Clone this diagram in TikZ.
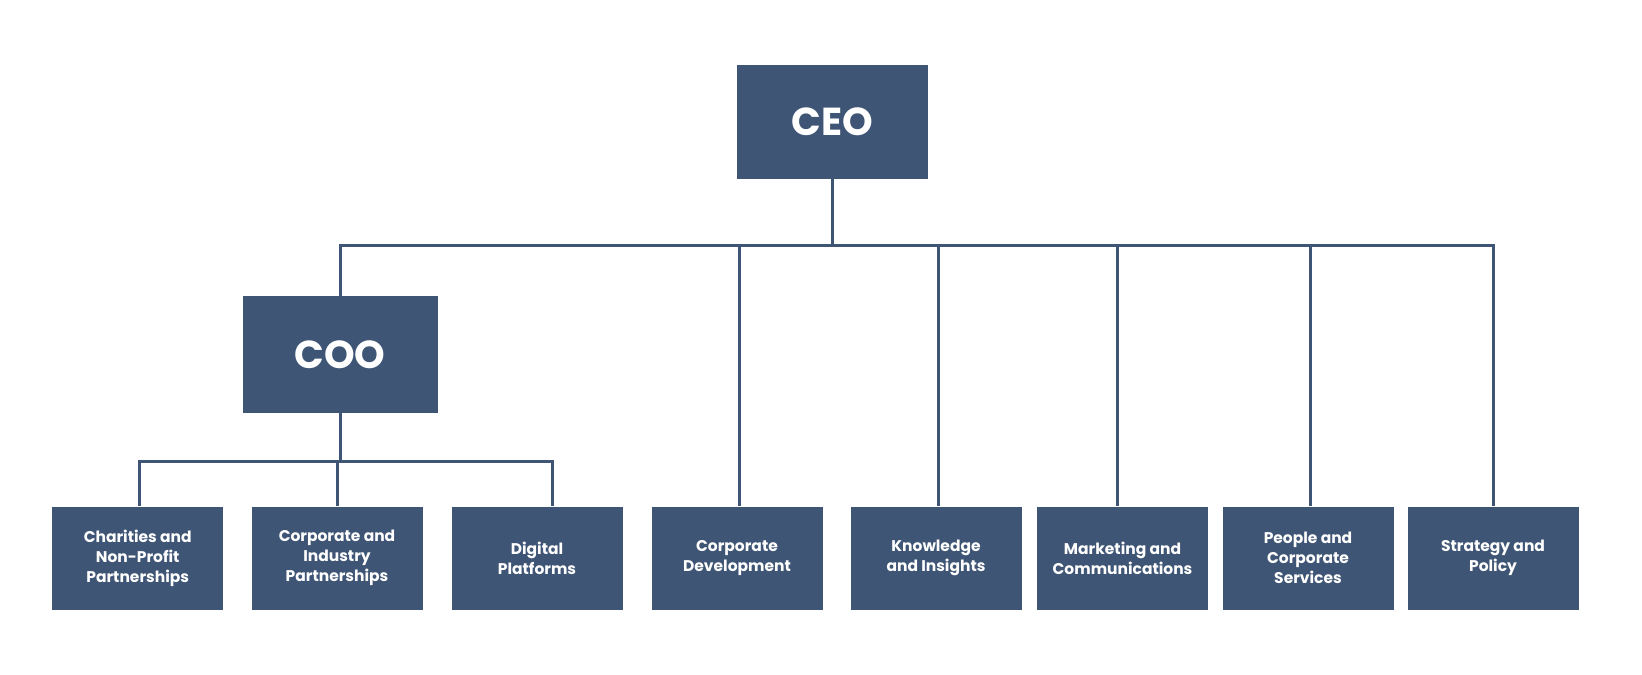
\documentclass[tikz,border=0pt]{standalone}
\usepackage{fontspec}
\setmainfont{Poppins}
\definecolor{boxc}{HTML}{3F5575}
\begin{document}
\begin{tikzpicture}[x=1pt,y=-1pt,
  box/.style={fill=boxc,text=white,inner sep=0pt,align=center,font=\bfseries},
  topbox/.style={box,font=\fontsize{39}{42}\selectfont\bfseries},
  unitbox/.style={box,minimum width=171pt,minimum height=103pt,font=\fontsize{15.5}{20}\selectfont\bfseries},
  conn/.style={draw=boxc,line width=3pt}]
\useasboundingbox (0,0) rectangle (1642,675);
\node[topbox,minimum width=191pt,minimum height=114pt] (ceo) at (832.5,122) {CEO};
\node[topbox,minimum width=195pt,minimum height=117pt] (coo) at (340,354.5) {COO};
\node[unitbox] (b1) at (137.7,558) {Charities and\\Non-Profit\\Partnerships};
\node[unitbox] (b2) at (337,558) {Corporate and\\Industry\\Partnerships};
\node[unitbox] (b3) at (537,558) {Digital\\Platforms};
\node[unitbox] (b4) at (737,558) {Corporate\\Development};
\node[unitbox] (b5) at (936,558) {Knowledge\\and Insights};
\node[unitbox] (b6) at (1122.5,558) {Marketing and\\Communications};
\node[unitbox] (b7) at (1308,558) {People and\\Corporate\\Services};
\node[unitbox] (b8) at (1493,558) {Strategy and\\Policy};
\coordinate (busA) at (832.5,245);
\coordinate (busB) at (340,461);
\draw[conn] (ceo.south) -- (busA);
\draw[conn] (coo.north) |- (busA) -| (b8.north);
\draw[conn] ([xshift=2pt]b4.north) -- ([xshift=2pt]b4.north |- busA);
\draw[conn] ([xshift=2pt]b5.north) -- ([xshift=2pt]b5.north |- busA);
\draw[conn] ([xshift=-5pt]b6.north) -- ([xshift=-5pt]b6.north |- busA);
\draw[conn] ([xshift=2pt]b7.north) -- ([xshift=2pt]b7.north |- busA);
\draw[conn] (coo.south) -- (busB);
\draw[conn] ([xshift=1.5pt]b1.north) |- (busB) -| ([xshift=15pt]b3.north);
\draw[conn] (b2.north) -- (b2.north |- busB);
\end{tikzpicture}
\end{document}
